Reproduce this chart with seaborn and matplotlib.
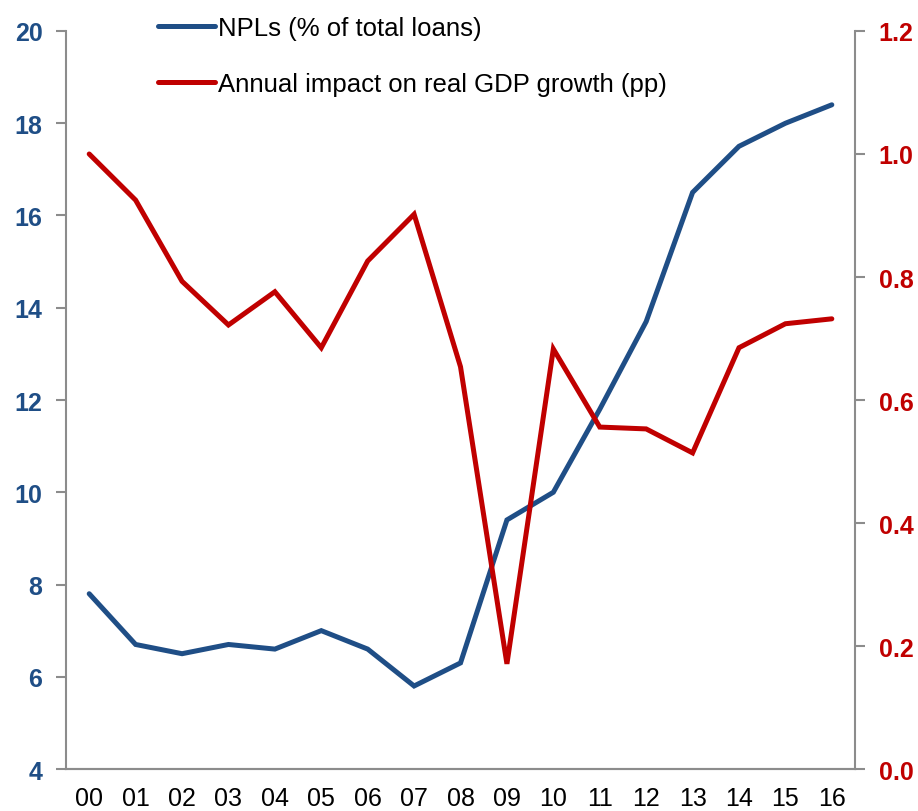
import numpy as np
import matplotlib
matplotlib.use("Agg")
import matplotlib.pyplot as plt
from matplotlib.ticker import FixedLocator
import seaborn as sns
import pandas as pd

years = ["00", "01", "02", "03", "04", "05", "06", "07", "08",
         "09", "10", "11", "12", "13", "14", "15", "16"]
npls = [7.8, 6.7, 6.5, 6.7, 6.6, 7.0, 6.6, 5.8, 6.3,
        9.4, 10.0, 11.8, 13.7, 16.5, 17.5, 18.0, 18.4]
gdp_impact = [1.0, 0.925, 0.793, 0.722, 0.776, 0.685, 0.826, 0.902, 0.654,
              0.171, 0.683, 0.556, 0.553, 0.514, 0.685, 0.724, 0.732]
left_ticks = [4, 6, 8, 10, 12, 14, 16, 18, 20]
right_ticks = [0.0, 0.2, 0.4, 0.6, 0.8, 1.0, 1.2]

BLUE = "#1F4E86"
RED = "#C00000"
GREY = "#8C8C8C"

sns.set_style("white")
plt.rcParams['font.family'] = ['Liberation Sans', 'DejaVu Sans']

df = pd.DataFrame({"pos": np.arange(len(years)), "npls": npls, "gdp": gdp_impact})

fig = plt.figure(figsize=(9.18, 8.12), dpi=100)
ax = fig.add_axes([0.0719, 0.0517, 0.8595, 0.9089])
ax2 = ax.twinx()

sns.lineplot(data=df, x="pos", y="npls", ax=ax, color=BLUE, linewidth=3.6,
             legend=False)
sns.lineplot(data=df, x="pos", y="gdp", ax=ax2, color=RED, linewidth=3.6,
             legend=False)
for l in ax.lines + ax2.lines:
    l.set_solid_capstyle("round")
    l.set_solid_joinstyle("miter")

ax.set_xlim(-0.5, len(years) - 0.5)
ax.set_ylim(4, 20)
ax2.set_ylim(0, 1.2)
ax.set_yticks(left_ticks)
ax2.set_yticks(right_ticks)
ax2.set_yticklabels([f"{v:.1f}" for v in right_ticks])
ax.set_xticks(df["pos"])
ax.set_xticklabels(years)
ax.xaxis.set_minor_locator(FixedLocator(np.arange(-0.5, len(years), 1.0)))
ax.set_xlabel("")
ax.set_ylabel("")
ax2.set_ylabel("")

for a in (ax, ax2):
    for s in a.spines.values():
        s.set_color(GREY)
        s.set_linewidth(1.5)
    a.spines["top"].set_visible(False)
    a.grid(False)
ax.spines["right"].set_visible(False)
ax2.spines["left"].set_visible(False)

ax.tick_params(axis="x", which="major", length=0, labelsize=18, pad=12, colors="black")
ax.tick_params(axis="x", which="minor", length=7, width=1.5, color=GREY, direction="out")
ax.tick_params(axis="y", length=7, width=1.5, color=GREY, labelsize=18,
               labelcolor=BLUE, pad=10, direction="out")
ax2.tick_params(axis="y", length=7, width=1.5, color=GREY, labelsize=18,
                labelcolor=RED, pad=10, direction="out")
for t in ax.get_yticklabels() + ax2.get_yticklabels():
    t.set_fontweight("bold")

handles = ax.lines[:1] + ax2.lines[:1]
labels = ["NPLs (% of total loans)", "Annual impact on real GDP growth (pp)"]
fig.legend(handles, labels, loc="upper left", bbox_to_anchor=(0.147, 1.008),
           frameon=False, fontsize=18.5, handlelength=2.2, handletextpad=0.12,
           labelspacing=1.25, labelcolor="black")

fig.savefig("out.png", dpi=100)
